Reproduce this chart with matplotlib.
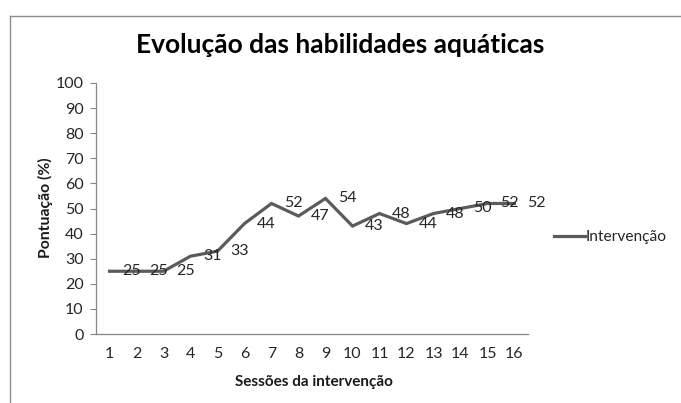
import matplotlib
matplotlib.use("Agg")
import matplotlib.pyplot as plt
from matplotlib.lines import Line2D
import numpy as np

# data
sessions = list(range(1, 17))
scores = [25, 25, 25, 31, 33, 44, 52, 47, 54, 43, 48, 44, 48, 50, 52, 52]
series_name = "Intervenção"
y_ticks = list(range(0, 101, 10))

plt.rcParams['font.family'] = ['Lato', 'DejaVu Sans']

fig = plt.figure(figsize=(6.81, 4.03), dpi=100)
ax = fig.add_axes([96 / 681, 1 - 334 / 403, (528 - 96) / 681, (334 - 83) / 403])

line_color = '#5b5b5b'
ax.plot(sessions, scores, color=line_color, lw=2.3, solid_joinstyle='miter',
        label=series_name)

# data labels to the right of each point
for x, y in zip(sessions, scores):
    ax.annotate(str(y), (x, y), xytext=(9, 0), textcoords='offset points',
                ha='left', va='center', fontsize=11.5, color='#262626')

ax.set_xlim(0.5, 16.5)
ax.set_ylim(0, 100)
ax.set_xticks(sessions)
ax.set_yticks(y_ticks)
ax.tick_params(axis='x', length=0, pad=9, labelsize=11.5, labelcolor='#262626')
ax.tick_params(axis='y', length=4, width=0.8, color='#868686', pad=5,
               labelsize=11.5, labelcolor='#262626')

for side in ['top', 'right']:
    ax.spines[side].set_visible(False)
for side in ['left', 'bottom']:
    ax.spines[side].set_color('#868686')
    ax.spines[side].set_linewidth(0.9)

# titles
fig.text(340 / 681, 1 - 53 / 403, "Evolução das habilidades aquáticas",
         ha='center', va='baseline', fontsize=19, fontweight='bold', color='black')
fig.text(314 / 681, 1 - 382 / 403, "Sessões da intervenção",
         ha='center', va='center', fontsize=11, fontweight='bold', color='#1a1a1a')
fig.text(45 / 681, 1 - 208 / 403, "Pontuação (%)", rotation=90,
         ha='center', va='center', fontsize=11.3, fontweight='bold', color='#1a1a1a')

# legend on the right
fig.legend(handles=[Line2D([0], [0], color=line_color, lw=2.3)], labels=[series_name],
           loc='center left', bbox_to_anchor=(540 / 681, 1 - 237 / 403),
           frameon=False, fontsize=11.2, handlelength=2.0, handletextpad=0.05,
           labelcolor='#262626')

# outer chart border (cut off at right and bottom)
fig.add_artist(Line2D([10 / 681, 1], [1 - 16 / 403, 1 - 16 / 403],
                      transform=fig.transFigure, color='#8c8c8c', lw=1))
fig.add_artist(Line2D([10 / 681, 10 / 681], [1 - 16 / 403, 0],
                      transform=fig.transFigure, color='#8c8c8c', lw=1))

fig.savefig('out.png', dpi=100)
